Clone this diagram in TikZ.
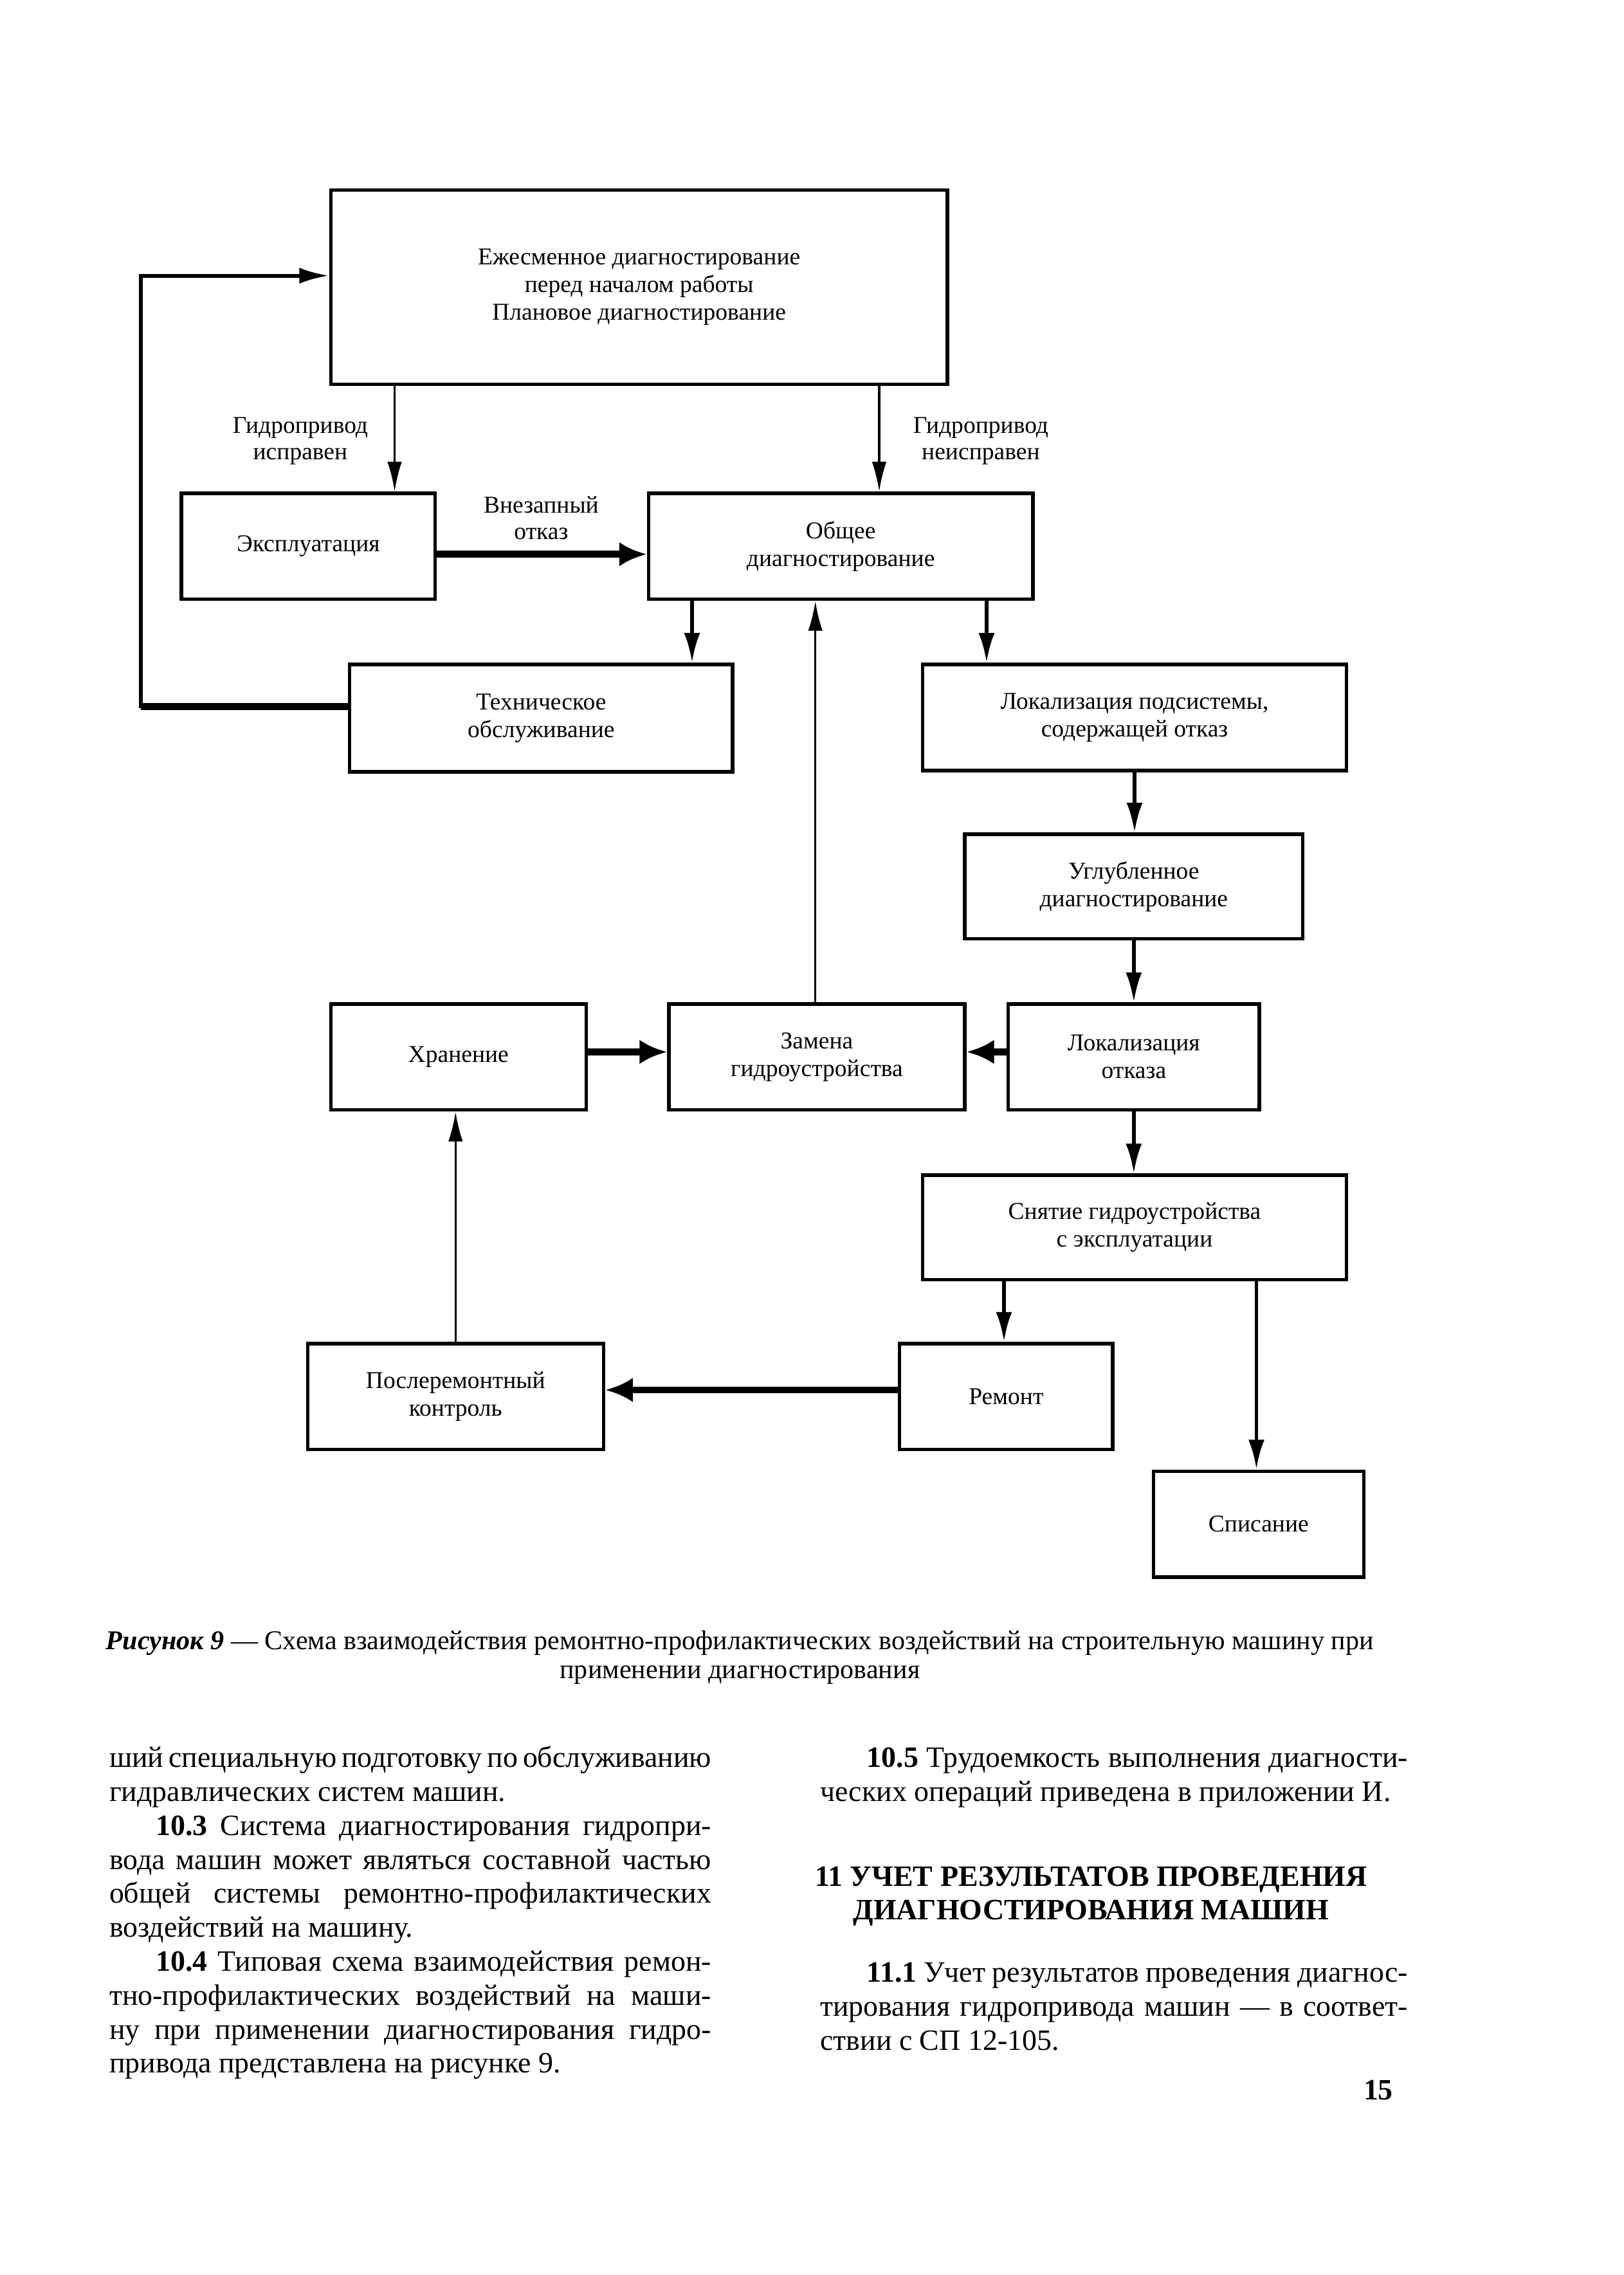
\documentclass[tikz,border=0pt]{standalone}
\usepackage{fontspec}
\setmainfont{Liberation Serif}
\usepackage{tikz}
\usetikzlibrary{arrows.meta}
\pgfdeclarelayer{fon}
\pgfdeclarelayer{svyazi_layer}
\pgfdeclarelayer{bloki}
\pgfsetlayers{fon,svyazi_layer,bloki,main}
\tikzstyle{none}=[inner sep=0pt]
\tikzstyle{blok}=[draw=black,fill=white,line width=1.3pt,align=center,inner sep=2pt,font=\fontsize{9}{10.3}\selectfont]
\tikzstyle{podpis}=[inner sep=0pt,align=center,font=\fontsize{9}{9.8}\selectfont]
\tikzstyle{line}=[draw,line width=0.8pt,-{Latex[length=3.9mm,width=1.9mm]}]
\tikzstyle{line2}=[draw,line width=1.4pt,-{Latex[length=3.9mm,width=2.1mm]}]
\tikzstyle{tolstaya}=[draw,line width=2.6pt,-{Latex[length=3.6mm,width=3.2mm]}]
\tikzstyle{tekst}=[inner sep=0pt,anchor=base west,font=\fontsize{11}{12.66}\selectfont]
\newlength{\kolshirina}
\newcommand{\kolstroka}[1]{\hbox to \kolshirina{#1}}
\newcommand{\kolkonec}[1]{\hbox to \kolshirina{#1\hfil}}

\begin{document}
\begin{tikzpicture}[x=0.19mm,y=-0.19mm]
		\begin{pgfonlayer}{fon}
			\useasboundingbox[fill=white] (0,0) rectangle (1119,1568);
		\end{pgfonlayer}
		\begin{pgfonlayer}{bloki}
			\node [style=blok,minimum width=80.75mm,minimum height=25.46mm] (ezhesm) at (440.5,198) {Ежесменное диагностирование\\перед началом работы\\Плановое диагностирование};
			\node [style=blok,minimum width=33.25mm,minimum height=13.87mm] (ekspl) at (212.5,376.5) {Эксплуатация};
			\node [style=blok,minimum width=50.35mm,minimum height=13.87mm] (obshchee) at (579.5,376.5) {Общее\\диагностирование};
			\node [style=blok,minimum width=50.16mm,minimum height=14.06mm] (tekhobsl) at (373,495) {Техническое\\обслуживание};
			\node [style=blok,minimum width=55.48mm,minimum height=13.87mm] (lokpods) at (782,494.5) {Локализация подсистемы,\\содержащей отказ};
			\node [style=blok,minimum width=44.27mm,minimum height=13.68mm] (uglub) at (781.5,611) {Углубленное\\диагностирование};
			\node [style=blok,minimum width=38.76mm,minimum height=13.87mm] (zamena) at (563,728.5) {Замена\\гидроустройства};
			\node [style=blok,minimum width=33.44mm,minimum height=13.87mm] (khranenie) at (316,728.5) {Хранение};
			\node [style=blok,minimum width=32.87mm,minimum height=13.87mm] (lokotk) at (781.5,728.5) {Локализация\\отказа};
			\node [style=blok,minimum width=55.48mm,minimum height=13.68mm] (snyatie) at (782,846) {Снятие гидроустройства\\с эксплуатации};
			\node [style=blok,minimum width=27.93mm,minimum height=13.87mm] (remont) at (693.5,962.5) {Ремонт};
			\node [style=blok,minimum width=38.76mm,minimum height=13.87mm] (poslerem) at (314,962.5) {Послеремонтный\\контроль};
			\node [style=blok,minimum width=27.55mm,minimum height=13.87mm] (spisanie) at (867.5,1050.5) {Списание};
			\node [style=podpis] (ispraven) at (207,304) {Гидропривод\\исправен};
			\node [style=podpis] (neispraven) at (676,304) {Гидропривод\\неисправен};
			\node [style=podpis] (vnezapnyi) at (373,357) {Внезапный\\отказ};
			\coordinate (povorot) at (97,190);
		\end{pgfonlayer}
		\begin{pgfonlayer}{svyazi_layer}
			\path [style=line] (ezhesm.south -| 272,0) -- (ekspl.north -| 272,0);
			\path [style=line] (ezhesm.south -| 606,0) -- (obshchee.north -| 606,0);
			\path [style=tolstaya] (ekspl.east |- 0,382) -- (obshchee.west |- 0,382);
			\path [style=line2] (obshchee.south -| 477,0) -- (tekhobsl.north -| 477,0);
			\path [style=line2] (obshchee.south -| 680,0) -- (lokpods.north -| 680,0);
			\path [style=line2] (tekhobsl.west |- 0,487) -| (povorot) -- (ezhesm.west |- povorot);
			\draw [line width=2.6pt] (tekhobsl.west |- 0,487) -- (povorot |- 0,487);
			\path [style=line2] (lokpods.south) -- (uglub.north -| lokpods.south);
			\path [style=line2] (uglub.south) -- (lokotk.north -| uglub.south);
			\path [style=line] (zamena.north -| 562,0) -- (obshchee.south -| 562,0);
			\path [style=tolstaya] (khranenie.east |- 0,725) -- (zamena.west |- 0,725);
			\path [style=tolstaya] (lokotk.west |- 0,725) -- (zamena.east |- 0,725);
			\path [style=line2] (lokotk.south) -- (snyatie.north -| lokotk.south);
			\path [style=line2] (snyatie.south -| 692,0) -- (remont.north -| 692,0);
			\path [style=line2] (snyatie.south -| 866,0) -- (spisanie.north -| 866,0);
			\path [style=tolstaya] (remont.west |- 0,958) -- (poslerem.east |- 0,958);
			\path [style=line] (poslerem.north -| 314,0) -- (khranenie.south -| 314,0);
		\end{pgfonlayer}
		% podpis k risunku i tekst stranicy
		\node [style=none,anchor=base,align=center,font=\fontsize{10.1}{10.8}\selectfont] (podpisris) at (510,1157) {\textbf{\textit{Рисунок 9}} — Схема взаимодействия ремонтно-профилактических воздействий на строительную машину при\\применении диагностирования};
		\node [style=tekst] (levkol) at (75,1218) {\setlength{\kolshirina}{78.85mm}\vtop{%
			\kolstroka{ший специальную подготовку по обслуживанию}
			\kolkonec{гидравлических систем машин.}
			\kolstroka{\hskip6.1mm\textbf{10.3} Система диагностирования гидропри-}
			\kolstroka{вода машин может являться составной частью}
			\kolstroka{общей системы ремонтно-профилактических}
			\kolkonec{воздействий на машину.}
			\kolstroka{\hskip6.1mm\textbf{10.4} Типовая схема взаимодействия ремон-}
			\kolstroka{тно-профилактических воздействий на маши-}
			\kolstroka{ну при применении диагностирования гидро-}
			\kolkonec{привода представлена на рисунке 9.}}};
		\node [style=tekst] (pravkol) at (565,1218) {\setlength{\kolshirina}{76.95mm}\vtop{%
			\kolstroka{\hskip6.1mm\textbf{10.5} Трудоемкость выполнения диагности-}
			\kolkonec{ческих операций приведена в приложении И.}}};
		\node [style=none,anchor=base,align=center,font=\fontsize{11}{12.4}\selectfont\bfseries] (razdel) at (752,1323) {11 УЧЕТ РЕЗУЛЬТАТОВ ПРОВЕДЕНИЯ\\ДИАГНОСТИРОВАНИЯ МАШИН};
		\node [style=tekst] (punkt) at (565,1366) {\setlength{\kolshirina}{76.95mm}\vtop{%
			\kolstroka{\hskip6.1mm\textbf{11.1} Учет результатов проведения диагнос-}
			\kolstroka{тирования гидропривода машин — в соответ-}
			\kolkonec{ствии с СП 12-105.}}};
		\node [style=none,anchor=base,font=\fontsize{11}{12}\selectfont\bfseries] (stranica) at (950,1447) {15};
\end{tikzpicture}
\end{document}
